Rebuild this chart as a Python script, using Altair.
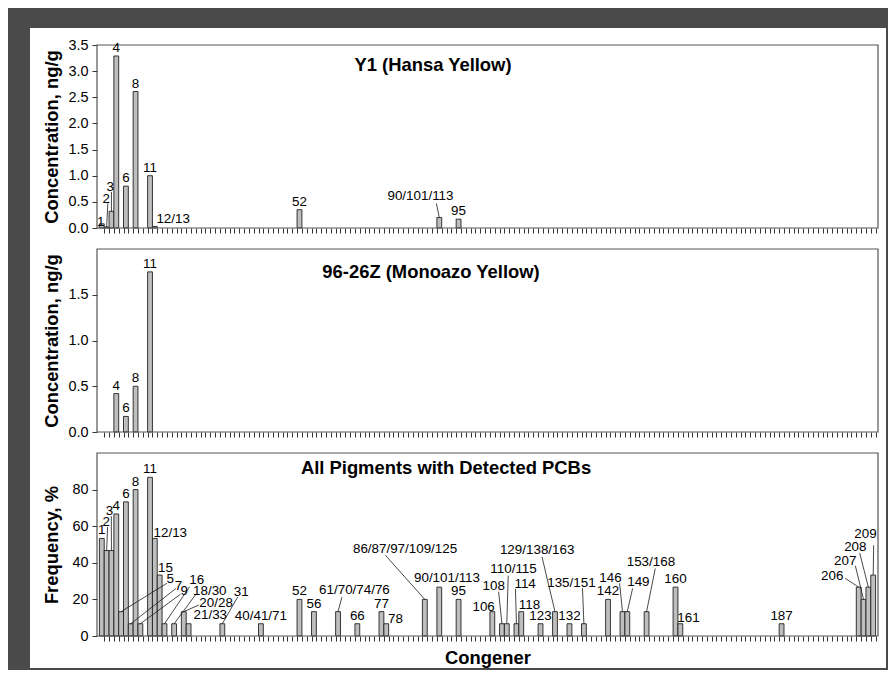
import altair as alt
import pandas as pd

# ---------------- data ----------------
congeners = ["1", "2", "3", "4", "5", "6", "7", "8", "9", "11", "12/13", "15", "16",
             "18/30", "20/28", "21/33", "31", "40/41/71", "52", "56", "61/70/74/76",
             "66", "77", "78", "86/87/97/109/125", "90/101/113", "95", "106", "108",
             "110/115", "114", "118", "123", "129/138/163", "132", "135/151", "142",
             "146", "149", "153/168", "160", "161", "187", "206", "207", "208", "209"]
# position of each congener among the 161 categories of the x axis
category_index = [1, 2, 3, 4, 5, 6, 7, 8, 9, 11, 12, 13, 14, 16, 18, 19, 26, 34, 42, 45,
                  50, 54, 59, 60, 68, 71, 75, 82, 84, 85, 87, 88, 92, 95, 98, 101, 106,
                  109, 110, 114, 120, 121, 142, 158, 159, 160, 161]
n_categories = 161

# frequency of detection, % (all pigments with detected PCBs)
frequency = [53.3, 46.7, 46.7, 66.7, 13.3, 73.3, 6.7, 80.0, 6.7, 86.7, 53.3, 33.3, 6.7,
             6.7, 13.3, 6.7, 6.7, 6.7, 20.0, 13.3, 13.3, 6.7, 13.3, 6.7, 20.0, 26.7, 20.0,
             13.3, 6.7, 6.7, 6.7, 13.3, 6.7, 13.3, 6.7, 6.7, 20.0, 13.3, 13.3, 13.3, 26.7,
             6.7, 6.7, 26.7, 20.0, 26.7, 33.3]

# Y1 (Hansa Yellow), ng/g
y1_congeners = ["1", "2", "3", "4", "6", "8", "11", "12/13", "52", "90/101/113", "95"]
y1_conc = [0.08, 0.02, 0.32, 3.29, 0.80, 2.61, 1.00, 0.03, 0.35, 0.20, 0.17]

# 96-26Z (Monoazo Yellow), ng/g
z_congeners = ["4", "6", "8", "11"]
z_conc = [0.42, 0.17, 0.50, 1.75]

# ---------------- label placement (data units) ----------------
# congener: (label x, label y, leader start or None); unlisted labels sit on their bar
y1_labels = {
    "1": (0.75, 0.12, None),
    "2": (1.9, 0.56, (2.25, 0.47)),
    "3": (2.75, 0.79, (3.0, 0.69)),
    "12/13": (15.8, 0.17, None),
    "90/101/113": (67.1, 0.61, (70.4, 0.47)),
}
z_labels = {}
freq_labels = {
    "2": (1.93, 62.4, (2.2, 59.6)),
    "3": (2.6, 68.2, (2.97, 65.5)),
    "5": (15.2, 31.0, (14.5, 28.8)),
    "7": (16.9, 27.4, (16.4, 26.0)),
    "9": (18.1, 24.4, (17.3, 22.8)),
    "12/13": (15.2, 56.4, None),
    "15": (14.2, 37.4, None),
    "16": (20.7, 30.4, (19.2, 26.9)),
    "18/30": (23.4, 24.8, (20.4, 22.4)),
    "20/28": (24.7, 17.8, (21.1, 16.9)),
    "21/33": (23.5, 11.4, None),
    "31": (29.9, 23.8, (29.2, 21.4)),
    "61/70/74/76": (53.4, 25.0, (50.8, 21.2)),
    "78": (61.9, 9.3, None),
    "86/87/97/109/125": (63.9, 47.8, (59.8, 44.2)),
    "90/101/113": (72.6, 31.7, None),
    "106": (80.2, 16.0, None),
    "108": (82.3, 27.4, (83.3, 24.2)),
    "110/115": (86.4, 36.6, (85.3, 33.0)),
    "114": (88.8, 28.4, (86.8, 25.8)),
    "118": (89.7, 16.9, None),
    "129/138/163": (91.3, 46.9, (92.3, 43.3)),
    "135/151": (98.4, 28.9, (100.7, 26.2)),
    "146": (106.5, 31.8, (108.4, 28.8)),
    "149": (112.3, 29.3, (111.1, 26.0)),
    "153/168": (114.9, 40.2, (115.8, 36.9)),
    "161": (122.7, 10.0, None),
    "206": (152.5, 32.7, (155.2, 31.5)),
    "207": (155.2, 40.9, (157.3, 38.4)),
    "208": (157.3, 48.4, (158.2, 45.4)),
    "209": (159.4, 56.0, (161.1, 49.6)),
}

# ---------------- styling ----------------
W, H = 781, 183
FONT = "Liberation Sans"
LABEL_SIZE = 13.4
TICK_LABEL_SIZE = 14.4
TITLE_SIZE = 18.4
BAR_FILL = "#bebebe"
BAR_STROKE = "#222222"
FRAME = "#555555"
DARK = "#4a4a4a"

xscale = alt.Scale(domain=[0, n_categories + 1], nice=False, zero=False)
tick_values = [k + 0.5 for k in range(1, n_categories + 1)]
one_row = pd.DataFrame({"k": [0]})
index_of = dict(zip(congeners, category_index))


def panel(cats, vals, layout, ymax, yticks, yfmt, ytitle, title, title_xy,
          xtitle=None, surround=False):
    yscale = alt.Scale(domain=[0, ymax], nice=False, zero=True)
    bars = pd.DataFrame({"congener": cats,
                         "idx": [index_of[c] for c in cats],
                         "value": vals})
    value_of = dict(zip(cats, vals))

    x_axis_kw = dict(values=tick_values, labels=False, domain=False, grid=False,
                     ticks=True, tickSize=5, tickColor="#333333", tickWidth=1,
                     title=xtitle)
    if xtitle:
        x_axis_kw.update(titleFontSize=TITLE_SIZE, titleFontWeight="bold",
                         titleY=21, titleBaseline="middle", titleColor="black")
    x_axis = alt.Axis(**x_axis_kw)
    y_axis = alt.Axis(values=yticks, format=yfmt, title=ytitle, domain=False,
                      grid=False, tickSize=5, tickColor="#333333", labelPadding=4,
                      labelFontSize=TICK_LABEL_SIZE, labelColor="black",
                      titleFontSize=TITLE_SIZE, titleFontWeight="bold",
                      titleColor="black", titleX=-46, titleBaseline="middle")

    def X(field):
        return alt.X(field, scale=xscale, axis=x_axis)

    def Y(field):
        return alt.Y(field, scale=yscale, axis=y_axis)

    layers = []
    if surround:
        # dark surround of the figure, drawn as four bands outside the white page
        bands = [(-89, -67, -37, 625), (-89, 791, -37, -17),
                 (789, 791, -37, 625), (-89, 791, 623, 625)]
        for bx1, bx2, by1, by2 in bands:
            layers.append(
                alt.Chart(one_row).mark_rect(fill=DARK).encode(
                    x=alt.value(bx1), x2=alt.value(bx2),
                    y=alt.value(by1), y2=alt.value(by2)))

    layers.append(
        alt.Chart(bars)
        .transform_calculate(x0="datum.idx - 0.5", x1="datum.idx + 0.5")
        .mark_bar(fill=BAR_FILL, stroke=BAR_STROKE, strokeWidth=0.9)
        .encode(x=X("x0:Q"), x2="x1:Q", y=Y("value:Q"), y2=alt.datum(0)))

    layers.append(
        alt.Chart(one_row).mark_rect(fill="transparent", stroke=FRAME,
                                     strokeWidth=1.2).encode(
            x=alt.value(0), x2=alt.value(W), y=alt.value(0), y2=alt.value(H)))

    above = bars[~bars["congener"].isin(list(layout.keys()))]
    layers.append(
        alt.Chart(above).mark_text(baseline="bottom", dy=-1, fontSize=LABEL_SIZE,
                                   color="black")
        .encode(x=X("idx:Q"), y=Y("value:Q"), text="congener:N"))

    if layout:
        placed = pd.DataFrame([{"congener": c, "lx": p[0], "ly": p[1]}
                               for c, p in layout.items()])
        layers.append(
            alt.Chart(placed).mark_text(baseline="middle", align="center",
                                        fontSize=LABEL_SIZE, color="black")
            .encode(x=X("lx:Q"), y=Y("ly:Q"), text="congener:N"))
        leaders = pd.DataFrame([{"xa": p[2][0], "ya": p[2][1],
                                 "xb": index_of[c], "yb": value_of[c]}
                                for c, p in layout.items() if p[2] is not None])
        if len(leaders):
            layers.append(
                alt.Chart(leaders).mark_rule(color="#1a1a1a", strokeWidth=0.8)
                .encode(x=X("xa:Q"), y=Y("ya:Q"), x2="xb:Q", y2="yb:Q"))

    layers.append(
        alt.Chart(one_row).mark_text(text=title, fontSize=TITLE_SIZE,
                                     fontWeight="bold", align="center",
                                     baseline="middle", color="black")
        .encode(x=alt.value(title_xy[0]), y=alt.value(title_xy[1])))

    return alt.layer(*layers).properties(width=W, height=H)


p1 = panel(y1_congeners, y1_conc, y1_labels, 3.5,
           [0, 0.5, 1.0, 1.5, 2.0, 2.5, 3.0, 3.5], ".1f",
           "Concentration, ng/g", "Y1 (Hansa Yellow)", (336, 20), surround=True)
p2 = panel(z_congeners, z_conc, z_labels, 2.0, [0, 0.5, 1.0, 1.5], ".1f",
           "Concentration, ng/g", "96-26Z (Monoazo Yellow)", (334, 23))
p3 = panel(congeners, frequency, freq_labels, 100, [0, 20, 40, 60, 80], "d",
           "Frequency, %", "All Pigments with Detected PCBs", (349, 15),
           xtitle="Congener")

chart = (
    alt.vconcat(p1, p2, p3, spacing=21, bounds="flush",
                padding={"left": 0, "top": 0, "right": 0, "bottom": 0},
                background="white")
    .configure(font=FONT)
    .configure_view(strokeWidth=0)
)

chart.save("out.html", embed_options={"renderer": "svg", "actions": False})
